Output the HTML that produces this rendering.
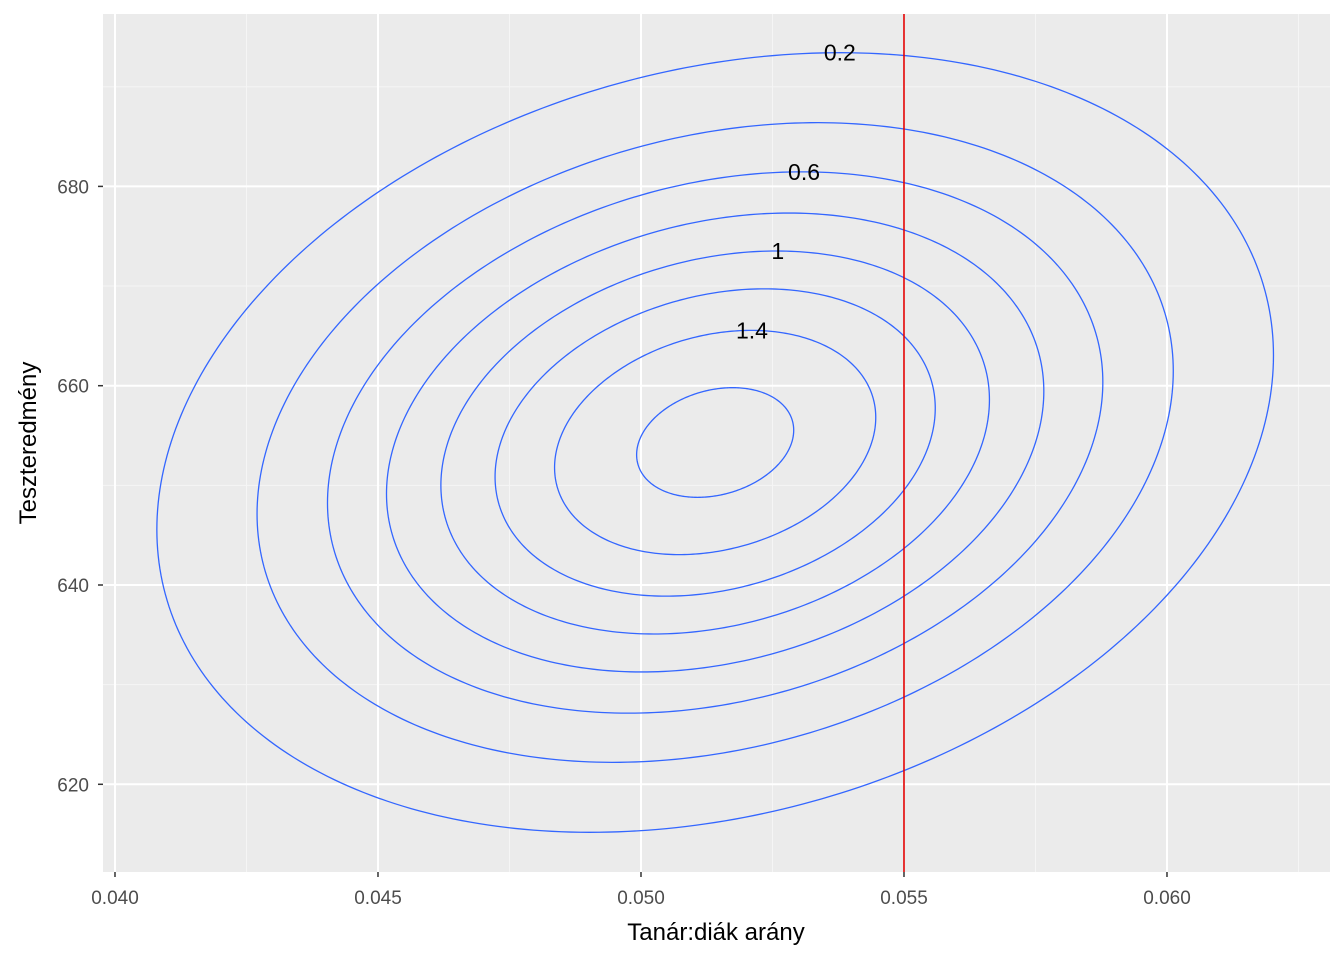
<!DOCTYPE html>
<html><head><meta charset="utf-8">
<style>
body{margin:0;background:#fff;}
svg{display:block;font-family:"Liberation Sans",Arial,sans-serif;}
</style></head>
<body>
<svg id="chart" width="1344" height="960" viewBox="0 0 1344 960" xmlns="http://www.w3.org/2000/svg">
<rect width="1344" height="960" fill="#fff"/>
<rect x="103" y="14" width="1227" height="858" fill="#EBEBEB"/>
<g id="grid"></g>
<g id="contours"></g>
<g id="labels"></g>
<g id="axes"></g>
<text x="716" y="940" font-size="24" text-anchor="middle" fill="#000">Tanár:diák arány</text>
<text transform="translate(36,443) rotate(-90)" font-size="24" text-anchor="middle" fill="#000">Teszteredmény</text>
</svg>
<script>
const levels=[0.2,0.4,0.6,0.8,1.0,1.2,1.4,1.6];
const labelLevels=[0.2,0.6,1.0,1.4];
const labelText=["0.2","0.6","1","1.4"];
const labelXs=[0.05378,0.05310,0.05260,0.05211];
const xTicks=[0.040,0.045,0.050,0.055,0.060];
const xTickLabels=["0.040","0.045","0.050","0.055","0.060"];
const xMinor=[0.0425,0.0475,0.0525,0.0575,0.0625];
const yTicks=[620,640,660,680];
const yMinor=[630,650,670,690];
const meanX=0.05141, meanY=654.3, sdX=0.005153, sdY=18.99, rho=0.2234;
const vline=0.055;

const NS="http://www.w3.org/2000/svg";
const PX0=103,PX1=1330,PY0=14,PY1=872;
const X0=0.039772,X1=0.063099,Y0=611.2,Y1=697.3;
const sx=v=>PX0+(v-X0)/(X1-X0)*(PX1-PX0);
const sy=v=>PY1-(v-Y0)/(Y1-Y0)*(PY1-PY0);
function mk(tag,attrs,parent){const e=document.createElementNS(NS,tag);for(const k in attrs)e.setAttribute(k,attrs[k]);parent.appendChild(e);return e;}
const grid=document.getElementById('grid'),cont=document.getElementById('contours'),lab=document.getElementById('labels'),axes=document.getElementById('axes');
xMinor.forEach(v=>{const l=mk('line',{x1:sx(v),x2:sx(v),y1:PY0,y2:PY1,stroke:'#F5F5F5','stroke-width':1},grid);

});
yMinor.forEach(v=>{const l=mk('line',{x1:PX0,x2:PX1,y1:sy(v),y2:sy(v),stroke:'#F5F5F5','stroke-width':1},grid);

});
xTicks.forEach((v,i)=>{const l=mk('line',{x1:sx(v),x2:sx(v),y1:PY0,y2:PY1,stroke:'#fff','stroke-width':2},grid);


const t=mk('line',{x1:sx(v),x2:sx(v),y1:PY1,y2:PY1+5,stroke:'#333','stroke-width':1.5},axes);


const tx=mk('text',{x:sx(v),y:PY1+32,'font-size':19,'text-anchor':'middle',fill:'#4D4D4D'},axes);tx.textContent=xTickLabels[i];

});
yTicks.forEach(v=>{const l=mk('line',{x1:PX0,x2:PX1,y1:sy(v),y2:sy(v),stroke:'#fff','stroke-width':2},grid);


const t=mk('line',{x1:PX0-5,x2:PX0,y1:sy(v),y2:sy(v),stroke:'#333','stroke-width':1.5},axes);


const tx=mk('text',{x:PX0-14,y:sy(v)+7,'font-size':19,'text-anchor':'end',fill:'#4D4D4D'},axes);tx.textContent=String(v);

});
const peak=1/(2*Math.PI*sdX*sdY*Math.sqrt(1-rho*rho));
const cxy=rho*sdX*sdY;
const a=sdX, b=cxy/sdX, c=Math.sqrt(sdY*sdY-b*b);
levels.forEach(L=>{
  if(L>=peak)return;
  const r=Math.sqrt(2*Math.log(peak/L));
  let d='';
  for(let i=0;i<=360;i++){const t=i/360*2*Math.PI;const u=r*Math.cos(t),w=r*Math.sin(t);
    const x=meanX+a*u, y=meanY+b*u+c*w;
    d+=(i?'L':'M')+sx(x).toFixed(2)+','+sy(y).toFixed(2);}
  const p=mk('path',{d:d+'Z',fill:'none',stroke:'#3366FF','stroke-width':1.3},cont);
  
  
});
labelLevels.forEach((L,i)=>{
  const r2=2*Math.log(peak/L);
  const dx=labelXs[i]-meanX;
  const u=dx/a; const w=Math.sqrt(Math.max(0,r2-u*u));
  const y=meanY+b*u+c*w;
  const t=mk('text',{x:sx(labelXs[i]),y:sy(y)+8,'font-size':23,'text-anchor':'middle',fill:'#000'},lab);
  t.textContent=labelText[i];
  
  
});
const rl=mk('line',{x1:sx(vline),x2:sx(vline),y1:PY0,y2:PY1,stroke:'#E00000','stroke-width':1.6},lab);


</script>
</body></html>
